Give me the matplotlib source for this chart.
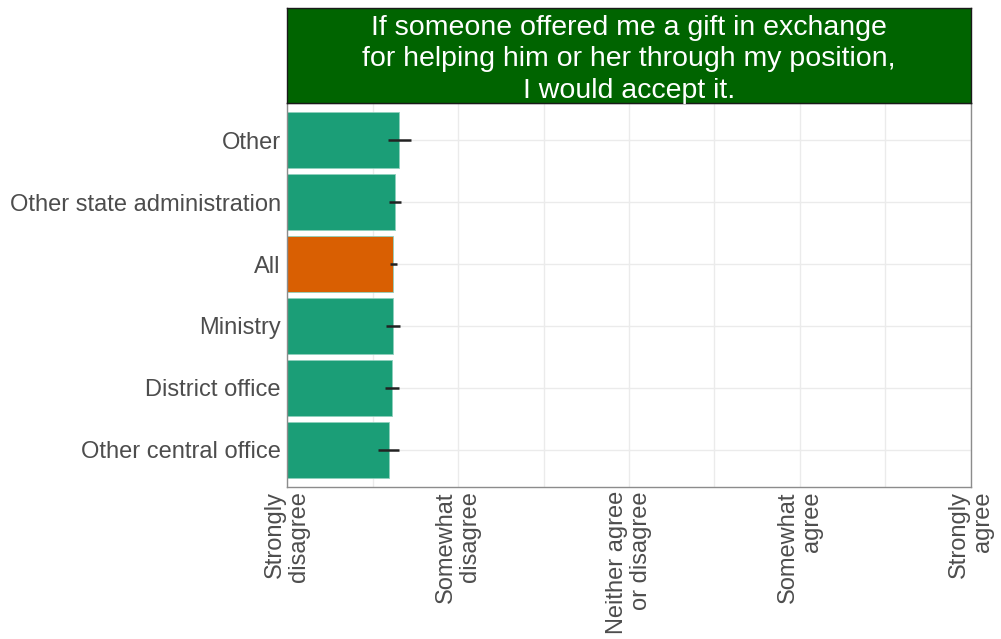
import numpy as np
import matplotlib.pyplot as plt

plt.rcParams['font.family'] = ['Liberation Sans', 'DejaVu Sans']

# groups from bottom to top
groups = ['Other central office', 'District office', 'Ministry', 'All',
          'Other state administration', 'Other']
means = [1.596, 1.616, 1.620, 1.622, 1.632, 1.657]
lower = [1.534, 1.573, 1.579, 1.603, 1.599, 1.591]
upper = [1.657, 1.657, 1.661, 1.642, 1.667, 1.725]
colors = ['#1b9e77', '#1b9e77', '#1b9e77', '#d95f02', '#1b9e77', '#1b9e77']

scale_pos = [1, 2, 3, 4, 5]
scale_labels = ['Strongly\ndisagree', 'Somewhat\ndisagree',
                'Neither agree\nor disagree', 'Somewhat\nagree',
                'Strongly\nagree']
title = ('If someone offered me a gift in exchange\n'
         'for helping him or her through my position,\n'
         'I would accept it.')

W, H = 1001, 639
fig = plt.figure(figsize=(W / 100, H / 100), dpi=100)
ax = fig.add_axes([287 / W, 1 - 487 / H, (971 - 287) / W, (487 - 103) / H])

y = np.arange(1, len(groups) + 1)
ax.barh(y, np.array(means) - 1, left=1, height=0.9, color=colors,
        edgecolor='#8fd0bd', linewidth=0.6, zorder=2)
ax.hlines(y, lower, upper, color='#222222', linewidth=1.8, zorder=3)

ax.set_xlim(1, 5)
ax.set_ylim(0.4, len(groups) + 0.6)
ax.set_yticks(y)
ax.set_yticklabels(groups)
ax.set_xticks(scale_pos)
ax.set_xticklabels(scale_labels, rotation=90, ha='center', va='top',
                   multialignment='right', linespacing=1.15)
ax.set_xticks(np.arange(1.5, 5, 1), minor=True)

ax.grid(True, which='both', color='#ebebeb', linewidth=1.0, zorder=0)
ax.set_axisbelow(True)
ax.tick_params(axis='both', which='both', length=0, labelsize=17,
               labelcolor='#4d4d4d')
ax.tick_params(axis='y', pad=4.5)
ax.tick_params(axis='x', pad=3)
for s in ax.spines.values():
    s.set_color('#8c8c8c')
    s.set_linewidth(1.0)

# facet strip
sax = fig.add_axes([287 / W, 1 - 103 / H, (971 - 287) / W, (103 - 8) / H])
sax.set_facecolor('#006400')
sax.set_xticks([])
sax.set_yticks([])
for s in sax.spines.values():
    s.set_color('#1a1a1a')
    s.set_linewidth(1.0)
sax.text(0.5, 0.46, title, transform=sax.transAxes, ha='center', va='center',
         color='white', fontsize=20.5, linespacing=1.26)

fig.savefig('out.png', dpi=100)
